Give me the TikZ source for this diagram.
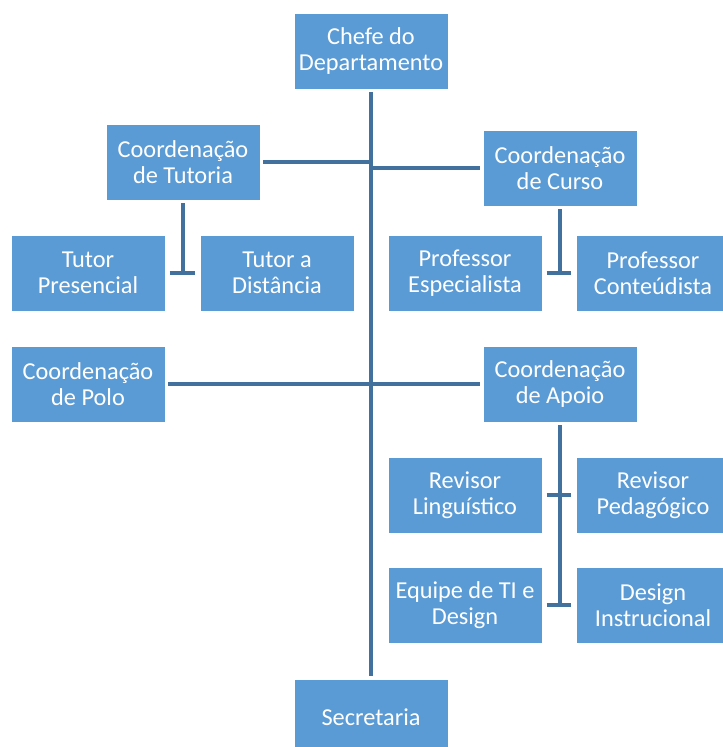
\documentclass[tikz,border=0pt]{standalone}
\usepackage{fontspec}
\setmainfont{Carlito}
\definecolor{boxblue}{HTML}{5B9BD5}
\definecolor{lineblue}{HTML}{41719C}
\begin{document}
\begin{tikzpicture}[
        every node/.style={font=\fontsize{17.3}{18.2}\selectfont},
        unit/.style={rectangle, draw=white, line width=0.6pt, fill=boxblue,
            text=white, minimum width=3.85cm, minimum height=1.9cm,
            align=center, inner sep=2pt},
        link/.style={draw=lineblue, line width=2.2pt}
      ]
      \useasboundingbox (0,0) rectangle (18.075,-18.675);

      \node[unit] (chefe) at (9.275,-1.275) {Chefe do\\Departamento};

      \node[unit] (tutoria) at (4.575,-4.05) {Coordenação\\de Tutoria};
      \node[unit] (curso)   at (14.0,-4.2)   {Coordenação\\de Curso};

      \node[unit] (tpres) at (2.2,-6.825)   {Tutor\\Presencial};
      \node[unit] (tdist) at (6.925,-6.825) {Tutor a\\Distância};
      \node[unit] (pesp)  at (11.625,-6.825) {Professor\\Especialista};
      \node[unit] (pcont) at (16.325,-6.825) {Professor\\Conteúdista};

      \node[unit] (polo)  at (2.2,-9.6)  {Coordenação\\de Polo};
      \node[unit] (apoio) at (14.0,-9.6) {Coordenação\\de Apoio};

      \node[unit] (rling)  at (11.625,-12.375) {Revisor\\Linguístico};
      \node[unit] (rped)   at (16.325,-12.375) {Revisor\\Pedagógico};
      \node[unit] (equipe) at (11.625,-15.125) {Equipe de TI e\\Design};
      \node[unit] (design) at (16.325,-15.125) {Design\\Instrucional};

      \node[unit] (secret) at (9.275,-17.925) {Secretaria};

      % tronco
      \draw[link, shorten <=2pt, shorten >=2pt] (chefe.south) -- (secret.north);
      \draw[link, shorten <=2pt] (tutoria.east) -- (tutoria.east -| chefe.south);
      \draw[link, shorten <=2pt] (curso.west) -- (curso.west -| chefe.south);
      \draw[link, shorten <=2pt, shorten >=2pt] (polo.east) -- (apoio.west);

      % tutoria
      \draw[link, shorten <=2pt] (tutoria.south) -- (tutoria.south |- tpres.east);
      \draw[link, shorten <=3pt, shorten >=3pt] (tpres.east) -- (tdist.west);

      % curso
      \draw[link, shorten <=2pt] (curso.south) -- (curso.south |- pesp.east);
      \draw[link, shorten <=3pt, shorten >=3pt] (pesp.east) -- (pcont.west);

      % apoio
      \draw[link, shorten <=2pt] (apoio.south) -- (apoio.south |- equipe.east);
      \draw[link, shorten <=3pt, shorten >=3pt] (rling.east) -- (rped.west);
      \draw[link, shorten <=3pt, shorten >=3pt] (equipe.east) -- (design.west);
    \end{tikzpicture}
\end{document}
